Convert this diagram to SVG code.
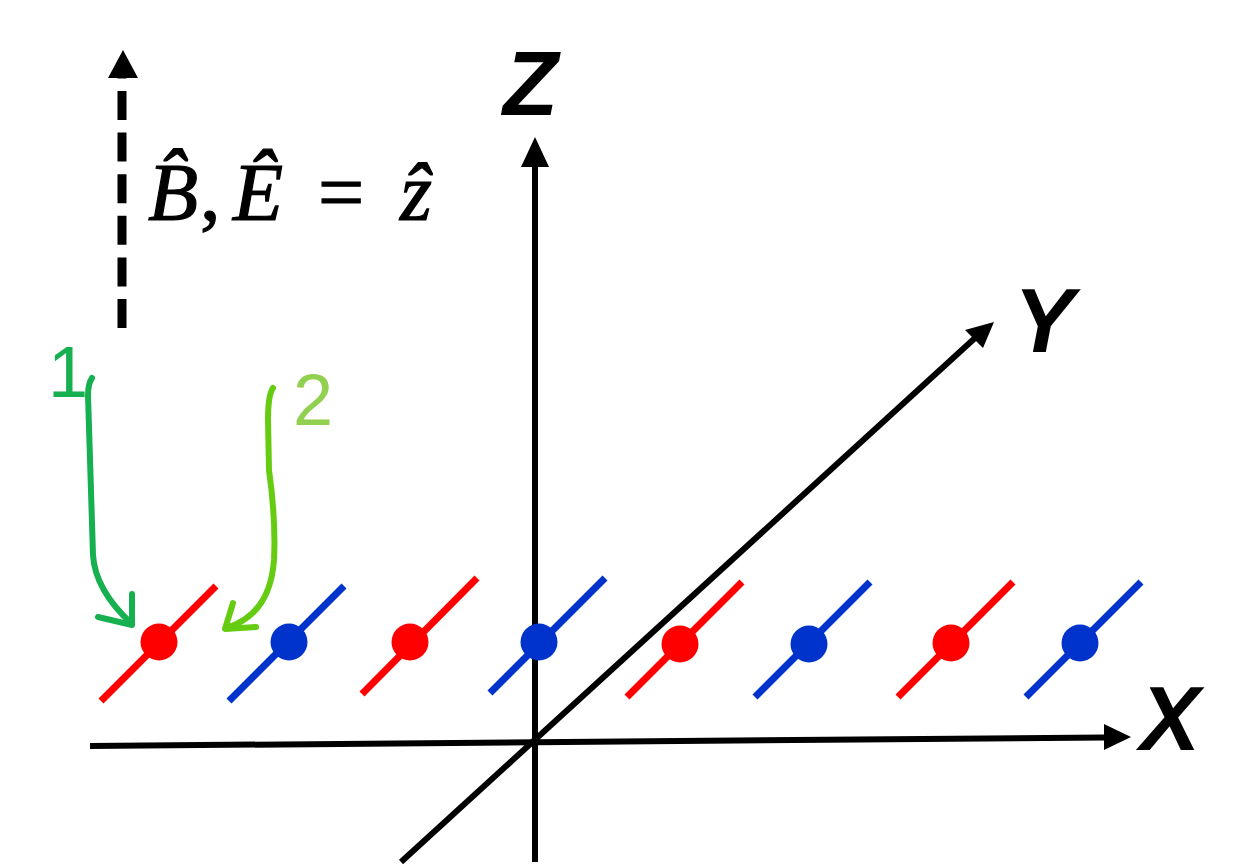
<svg xmlns="http://www.w3.org/2000/svg" width="1257" height="866" viewBox="0 0 1257 866">
<style>
.axis{stroke:#000;stroke-width:6;fill:none}
.lbl{font-family:"Liberation Sans",Arial,sans-serif;font-weight:bold;font-style:italic;font-size:90px;fill:#000}
.math{font-family:"Liberation Serif","DejaVu Serif",serif;font-size:82px;fill:#000;stroke:#000;stroke-width:1.2}
.it{font-style:italic}
.red{stroke:#FF0000;stroke-width:7}
.blue{stroke:#0033CC;stroke-width:7}
.g1{stroke:#17B050;stroke-width:6;fill:none;stroke-linecap:round;stroke-linejoin:round}
.g2{stroke:#66CC11;stroke-width:6;fill:none;stroke-linecap:round;stroke-linejoin:round}
.num{font-family:"Liberation Sans",Arial,sans-serif;font-size:72px}
</style>
<rect width="1257" height="866" fill="#fff"/>
<g id="axes">
<line class="axis" x1="535" y1="862" x2="535" y2="165"/>
<polygon points="535,137 521,167 549,167" fill="#000"/>
<line class="axis" x1="90" y1="746" x2="1105" y2="737.5"/>
<polygon points="1131,737 1104,724 1104,750" fill="#000"/>
<line class="axis" x1="401" y1="862" x2="975" y2="338"/>
<polygon points="994,322 965,330 983,348" fill="#000"/>
</g>
<g id="axis-labels">
<text class="lbl" x="503" y="115">Z</text>
<text class="lbl" x="1014" y="352">Y</text>
<text class="lbl" x="1140" y="750">X</text>
</g>
<g id="field-arrow">
<line x1="122" y1="328" x2="122" y2="78" stroke="#000" stroke-width="9" stroke-dasharray="29 12.6"/>
<polygon points="123,50 108,78 138,78" fill="#000"/>
</g>
<g id="field-label">
<text class="math"><tspan class="it" x="148" y="220">B̂</tspan><tspan x="200" y="220">,</tspan><tspan class="it" x="233" y="220">Ê</tspan><tspan x="318" y="220">=</tspan><tspan class="it" x="400" y="220">ẑ</tspan></text>
</g>
<g id="dipoles">
<g id="d1"><line class="red" x1="101" y1="701" x2="216" y2="586"/><circle cx="159" cy="642" r="18.5" fill="#FF0000"/></g>
<g id="d2"><line class="blue" x1="229" y1="701" x2="344" y2="586"/><circle cx="289" cy="642" r="18.5" fill="#0033CC"/></g>
<g id="d3"><line class="red" x1="362" y1="694" x2="477" y2="578"/><circle cx="410" cy="642" r="18.5" fill="#FF0000"/></g>
<g id="d4"><line class="blue" x1="490" y1="693" x2="605" y2="578"/><circle cx="539" cy="642" r="18.5" fill="#0033CC"/></g>
<g id="d5"><line class="red" x1="627" y1="697" x2="742" y2="582"/><circle cx="680" cy="644" r="18.5" fill="#FF0000"/></g>
<g id="d6"><line class="blue" x1="755" y1="697" x2="870" y2="582"/><circle cx="809" cy="644" r="18.5" fill="#0033CC"/></g>
<g id="d7"><line class="red" x1="898" y1="697" x2="1013" y2="582"/><circle cx="951" cy="643" r="18.5" fill="#FF0000"/></g>
<g id="d8"><line class="blue" x1="1026" y1="697" x2="1141" y2="582"/><circle cx="1080" cy="643" r="18.5" fill="#0033CC"/></g>
</g>
<g id="marker1">
<text class="num" x="48" y="397" fill="#17B050">1</text>
<path class="g1" d="M92,378 Q88,384 88,395 L93,555 Q95,590 132,624"/>
<path class="g1" d="M98,617 L132,625 L132,594"/>
</g>
<g id="marker2">
<text class="num" x="293" y="425" fill="#92D050">2</text>
<path class="g2" d="M273,388 Q268,395 268,420 L269,470 Q276,520 274,560 Q270,615 226,628"/>
<path class="g2" d="M233,603 L225,629 L256,627"/>
</g>
</svg>
